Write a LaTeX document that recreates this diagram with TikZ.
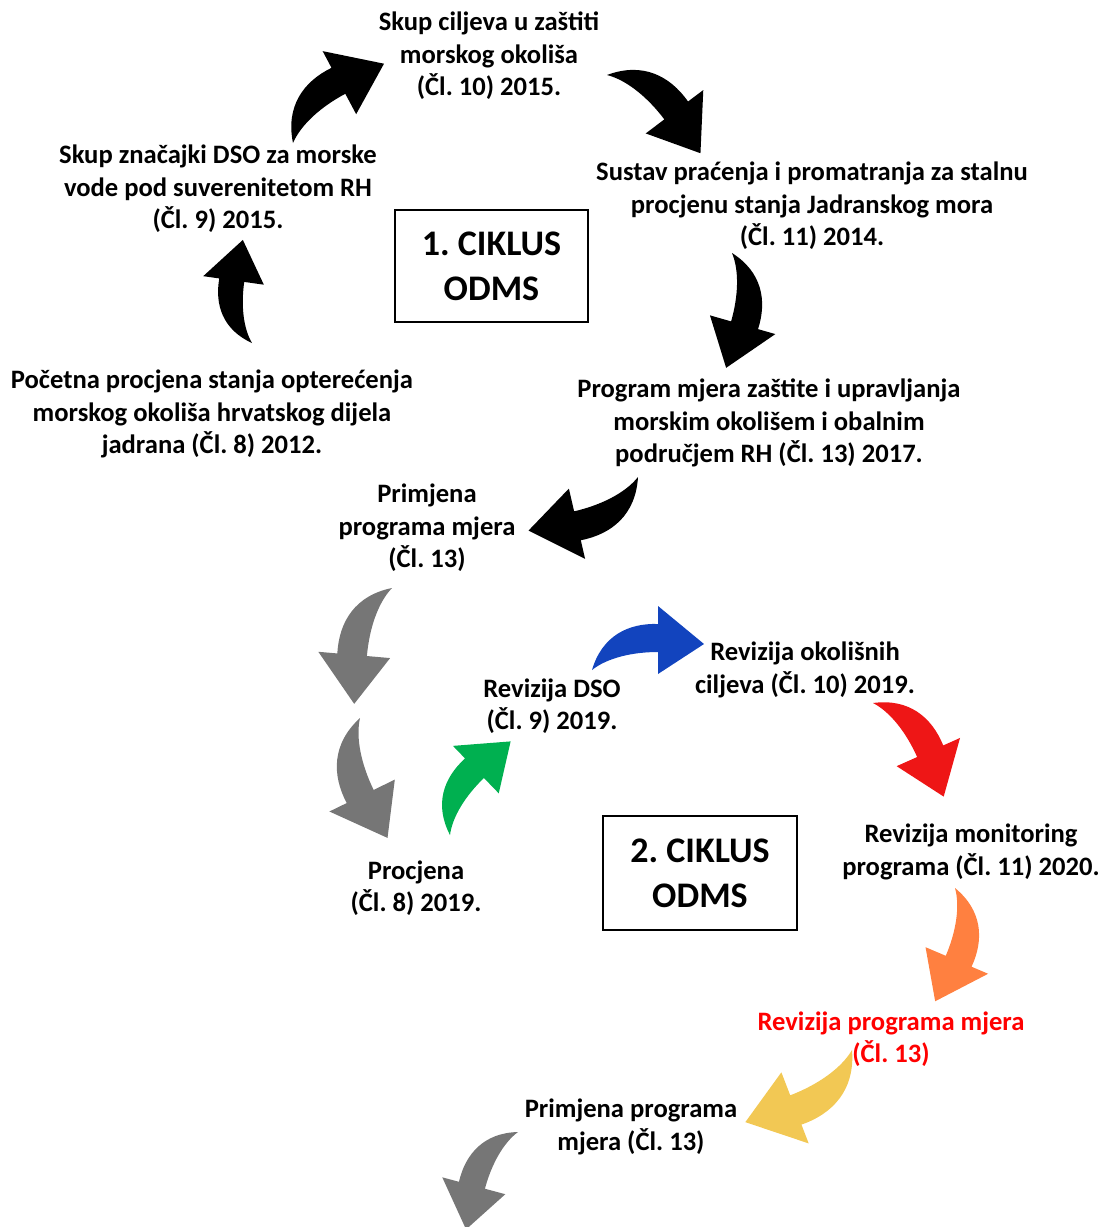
\documentclass[tikz,border=0pt]{standalone}
\usepackage{fontspec}
\setmainfont{Carlito}
\frenchspacing
\definecolor{arrgray}{RGB}{118,118,118}
\definecolor{arrgreen}{RGB}{0,176,80}
\definecolor{arrblue}{RGB}{18,68,190}
\definecolor{arrred}{RGB}{238,22,22}
\definecolor{arrorange}{RGB}{255,128,64}
\definecolor{arryellow}{RGB}{242,200,84}
\begin{document}
\begin{tikzpicture}[x=0.5pt,y=-0.5pt,
  lbl/.style={font=\fontsize{13.3}{16.2}\selectfont\bfseries, align=center, inner sep=0pt},
  cycbox/.style={draw, line width=0.6pt, font=\fontsize{18}{22.5}\selectfont\bfseries, align=center, minimum width=96.5pt, minimum height=56pt},
  bent/.pic={\fill (0,0) .. controls (10,-34) and (36,-47) .. (66,-46) -- (66,-64) -- (112,-26) -- (66,4) -- (66,-18) .. controls (40,-18) and (15,-12) .. (0,0) -- cycle;}]
\useasboundingbox (0,0) rectangle (1102,1227);

\node[lbl] (skupcilj) at (489,56) {Skup ciljeva u zaštiti\\morskog okoliša\\(Čl. 10) 2015.};
\node[lbl] (skupdso) at (218,189) {Skup značajki DSO za morske\\vode pod suverenitetom RH\\(Čl. 9) 2015.};
\node[lbl] (sustav) at (812,206) {Sustav praćenja i promatranja za stalnu\\procjenu stanja Jadranskog mora\\(Čl. 11) 2014.};
\node[lbl] (pocetna) at (212,414) {Početna procjena stanja opterećenja\\morskog okoliša hrvatskog dijela\\jadrana (Čl. 8) 2012.};
\node[lbl] (program) at (769,423) {Program mjera zaštite i upravljanja\\morskim okolišem i obalnim\\područjem RH (Čl. 13) 2017.};
\node[lbl] (primjena) at (427,528) {Primjena\\programa mjera\\(Čl. 13)};
\node[lbl] (revcilj) at (805,670) {Revizija okolišnih\\ciljeva (Čl. 10) 2019.};
\node[lbl] (revdso) at (552,706) {Revizija DSO\\(Čl. 9) 2019.};
\node[lbl] (procjena) at (416,888) {Procjena\\(Čl. 8) 2019.};
\node[lbl] (revmon) at (971,852) {Revizija monitoring\\programa (Čl. 11) 2020.};
\node[lbl, text=red] (revprog) at (891,1039) {Revizija programa mjera\\(Čl. 13)};
\node[lbl] (primjena2) at (631,1127) {Primjena programa\\mjera (Čl. 13)};

\node[cycbox] (ciklus1) at (491.5,266) {1. CIKLUS\\ODMS};
\node[cycbox, minimum width=97pt, minimum height=57pt] (ciklus2) at (700,873) {2. CIKLUS\\ODMS};

% first cycle
\pic[color=black, rotate=82, scale=0.9] at (252,343) {bent};
\pic[color=black, rotate=28, scale=1.05] at (293,143) {bent};
\pic[color=black, rotate=-53, scale=1.06] at (607,75) {bent};
\pic[color=black, rotate=-106] at (732,253) {bent};
\pic[color=black, rotate=-167, scale=1.06] at (638,477) {bent};
% second cycle
\pic[color=arrgray, rotate=-95, scale=1.06, yscale=-1] at (392,588) {bent};
\pic[color=arrgray, rotate=-64, scale=1.07, yscale=-1] at (360,718) {bent};
\pic[color=arrgreen, rotate=44, scale=0.97] at (450,835) {bent};
\pic[color=arrblue] at (592,670) {bent};
\pic[color=arrred, rotate=-66, scale=1.02] at (873,703) {bent};
\pic[color=arrorange, rotate=-113] at (955,888) {bent};
\pic[color=arryellow, rotate=-159, scale=1.12] at (852,1050) {bent};
\pic[color=arrgray, rotate=-105, scale=0.96, yscale=-1] at (518,1132) {bent};
\end{tikzpicture}
\end{document}
